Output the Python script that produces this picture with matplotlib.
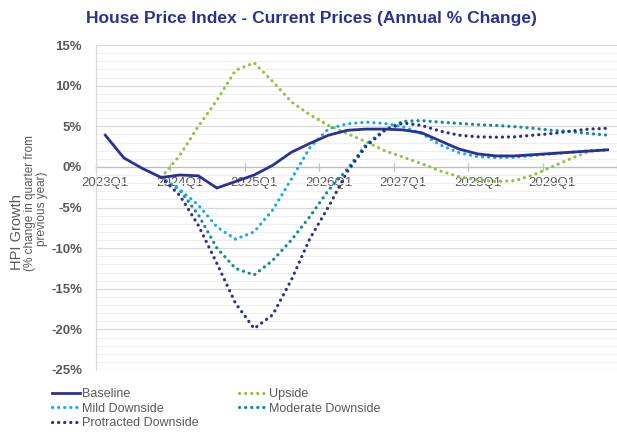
import numpy as np
import matplotlib
matplotlib.use("Agg")
import matplotlib.pyplot as plt
from matplotlib.ticker import MultipleLocator, FixedLocator, FuncFormatter

plt.rcParams['font.family'] = ['Liberation Sans', 'DejaVu Sans']

quarters = [f"{y}Q{q}" for y in range(2023, 2030) for q in range(1, 5)]
tick_labels = ["2023Q1", "2024Q1", "2025Q1", "2026Q1", "2027Q1", "2028Q1", "2029Q1"]
y_ticks = [15, 10, 5, 0, -5, -10, -15, -20, -25]

baseline = [3.9, 1.1, -0.2, -1.3, -1.0, -1.1, -2.6, -1.8, -1.0, 0.2, 1.8, 2.9, 3.9, 4.5,
            4.65, 4.65, 4.55, 4.2, 3.2, 2.2, 1.6, 1.35, 1.35, 1.5, 1.65, 1.8, 1.95, 2.1]
# scenarios start at 2023Q4
upside = [-1.3, 1.4, 5.0, 8.2, 11.9, 12.8, 10.5, 8.0, 6.4, 5.1, 4.1, 3.1, 2.0, 1.2, 0.4,
          -0.5, -1.2, -1.6, -1.8, -1.7, -1.0, 0.0, 1.0, 1.9, 2.1]
mild = [-1.3, -2.8, -4.7, -7.4, -8.9, -8.0, -5.3, -1.5, 2.4, 4.7, 5.3, 5.5, 5.35, 4.95,
        4.1, 2.7, 1.75, 1.26, 1.14, 1.18, 1.4, 1.6, 1.8, 2.0, 2.1]
moderate = [-1.3, -2.85, -5.9, -10.0, -12.5, -13.3, -11.5, -9.0, -6.1, -2.85, -0.3, 2.7,
            4.55, 5.6, 5.7, 5.5, 5.35, 5.2, 5.1, 4.95, 4.75, 4.5, 4.35, 4.1, 3.9]
protracted = [-1.3, -3.5, -7.2, -11.9, -16.8, -19.9, -18.2, -13.9, -8.8, -4.9, -0.6, 2.5,
              4.45, 5.4, 5.1, 4.4, 3.9, 3.7, 3.65, 3.7, 3.9, 4.1, 4.4, 4.65, 4.75]

scen_start = quarters.index("2023Q4")

NAVY = '#2B3190'
GREEN = '#8CC63F'
LBLUE = '#1AACE6'
TEAL = '#138A94'
GREY = '#595959'

W, H = 617, 437
fig = plt.figure(figsize=(W / 100, H / 100), dpi=100)
ax = fig.add_axes([96 / W, 1 - 370 / H, (W - 96) / W, (370 - 45) / H])

x_all = np.arange(len(quarters))
x_sc = np.arange(scen_start, len(quarters))

lw = 2.3
dot = dict(linestyle=(0, (0.05, 1.85)), dash_capstyle='round', linewidth=lw)

ax.plot(x_sc, upside, color=GREEN, label='Upside', zorder=3, **dot)
ax.plot(x_sc, moderate, color=TEAL, label='Moderate Downside', zorder=3, **dot)
ax.plot(x_sc, mild, color=LBLUE, label='Mild Downside', zorder=3, **dot)
ax.plot(x_sc, protracted, color=NAVY, label='Protracted Downside', zorder=3, **dot)
ax.plot(x_all, baseline, color=NAVY, linewidth=2.0, label='Baseline', zorder=4,
        solid_joinstyle='miter')

ax.set_xlim(-0.5, (W - 96) / 18.8 - 0.5)
ax.set_ylim(-25, 15)

ax.set_yticks(y_ticks, [f"{v}%" for v in y_ticks], fontweight='bold')
ax.yaxis.set_minor_locator(MultipleLocator(1))
ax.grid(axis='y', which='major', color='#D9D9D9', linewidth=0.9, zorder=0)
ax.grid(axis='y', which='minor', color='#EEEEEE', linewidth=0.8, zorder=0)
ax.set_axisbelow(True)
ax.tick_params(axis='y', which='both', length=0, pad=10, labelsize=9.5,
               labelcolor=GREY)

# x axis on zero line: marks at category boundaries, labels at category centres
label_pos = [quarters.index(q) for q in tick_labels]
bounds = np.arange(-0.5, len(quarters), 4)
ax.set_xticks(bounds, [""] * len(bounds))
ax.set_xticks(label_pos, tick_labels, minor=True, fontweight='bold')
ax.tick_params(axis='x', which='major', direction='inout', length=6, width=0.9,
               color='#BFBFBF')
ax.tick_params(axis='x', which='minor', length=0, pad=7, labelsize=9.5,
               labelcolor=GREY)

ax.spines['bottom'].set_position(('data', 0))
ax.spines['bottom'].set_color('#BFBFBF')
ax.spines['bottom'].set_linewidth(0.9)
ax.spines['bottom'].set_zorder(1)
ax.spines['left'].set_color('#D9D9D9')
ax.spines['left'].set_linewidth(0.9)
ax.spines['top'].set_visible(False)
ax.spines['right'].set_visible(False)
ax.patch.set_alpha(0)

# title
fig.text(311 / W, 1 - 18 / H, "House Price Index - Current Prices (Annual % Change)",
         ha='center', va='center', fontsize=12.5, fontweight='bold', color=NAVY)

# y-axis title
fig.text(17 / W, 1 - 232 / H, "HPI Growth", rotation=90, ha='center', va='center',
         fontsize=10.5, color=GREY)
fig.text(30 / W, 1 - 203 / H, "(% change in quarter from", rotation=90, ha='center',
         va='center', fontsize=8.5, color=GREY)
fig.text(42 / W, 1 - 209 / H, "previous year)", rotation=90, ha='center',
         va='center', fontsize=8.5, color=GREY)

handles, labels = ax.get_legend_handles_labels()
order = ['Baseline', 'Mild Downside', 'Protracted Downside', 'Upside', 'Moderate Downside']
hmap = dict(zip(labels, handles))
leg = fig.legend([hmap[k] for k in order], order, ncol=2, loc='upper left',
                 bbox_to_anchor=(52 / W, 1 - 388 / H), frameon=False, fontsize=9,
                 handlelength=2.2, handletextpad=0.2, columnspacing=3.2,
                 labelspacing=0.2, borderpad=0, borderaxespad=0)
for t in leg.get_texts():
    t.set_color(GREY)

fig.savefig("out.png", dpi=100)
